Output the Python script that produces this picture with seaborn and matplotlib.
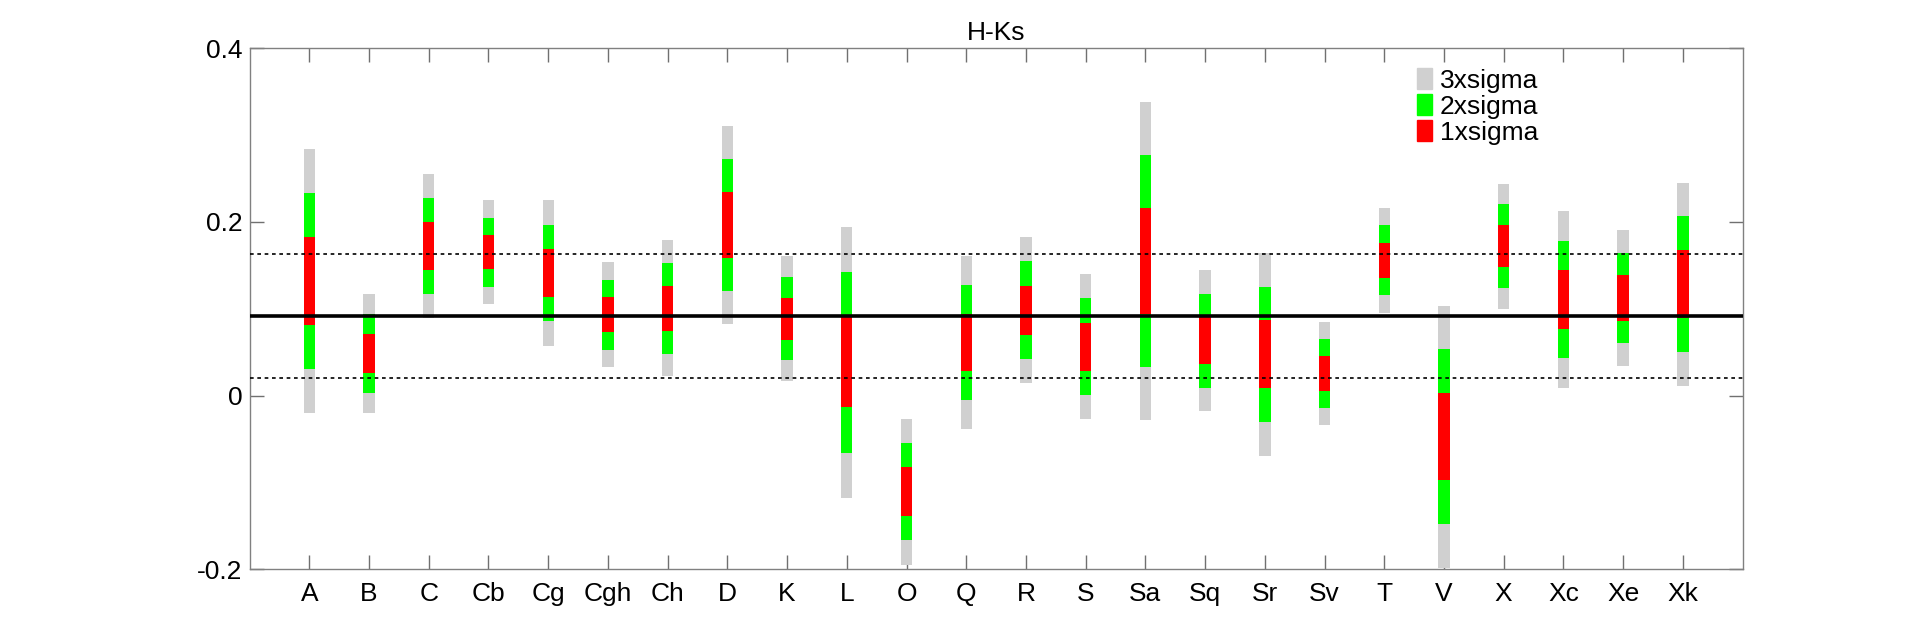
import numpy as np
import pandas as pd
import matplotlib
matplotlib.use('Agg')
import matplotlib.pyplot as plt
import matplotlib.patches as mpatches
import seaborn as sns

# classes and their H-Ks centre / sigma
classes = ['A', 'B', 'C', 'Cb', 'Cg', 'Cgh', 'Ch', 'D', 'K', 'L', 'O', 'Q',
           'R', 'S', 'Sa', 'Sq', 'Sr', 'Sv', 'T', 'V', 'X', 'Xc', 'Xe', 'Xk']
centre = [0.132, 0.0485, 0.1723, 0.1653, 0.1413, 0.0932, 0.1004, 0.1965,
          0.0885, 0.0384, -0.1107, 0.0612, 0.0984, 0.0563, 0.1554, 0.0632,
          0.0476, 0.0253, 0.156, -0.0474, 0.1723, 0.1107, 0.1123, 0.1285]
sigma = [0.0507, 0.023, 0.0277, 0.0199, 0.0279, 0.0201, 0.0261, 0.038,
         0.024, 0.052, 0.0281, 0.0333, 0.0281, 0.0279, 0.061, 0.0271,
         0.039, 0.0199, 0.0201, 0.0503, 0.024, 0.0339, 0.0261, 0.039]

mean_all = 0.092
band_lo = 0.0205
band_hi = 0.1634

ytick_vals = [-0.2, 0, 0.2, 0.4]
ytick_labels = ['-0.2', '0', '0.2', '0.4']

df = pd.DataFrame({'cls': classes, 'c': centre, 's': sigma})
df['pos'] = np.arange(1, len(df) + 1)

sns.set_style('ticks')
plt.rcParams['font.family'] = ['Liberation Sans', 'DejaVu Sans']
plt.rcParams['text.color'] = 'black'

fig = plt.figure(figsize=(19.2, 6.41), dpi=100)
ax = fig.add_axes([0.13, 0.112, 0.7776, 0.8125])

# 3, 2, 1 sigma bands, widest first
cols = {3: '#d0d0d0', 2: '#00ff00', 1: '#ff0000'}
for k in [3, 2, 1]:
    ax.bar(df['pos'], 2 * k * df['s'], bottom=df['c'] - k * df['s'],
           width=0.19, color=cols[k], linewidth=0, zorder=2)

ax.axhline(mean_all, color='black', lw=2.6, zorder=3)
ax.axhline(band_lo, color='black', lw=1.2, ls=(0, (2.2, 2.2)), zorder=3)
ax.axhline(band_hi, color='black', lw=1.2, ls=(0, (2.2, 2.2)), zorder=3)

ax.set_xlim(0, 25)
ax.set_ylim(-0.2, 0.4)
ax.set_xticks(df['pos'])
ax.set_xticklabels(df['cls'])
ax.set_yticks(ytick_vals)
ax.set_yticklabels(ytick_labels)
ax.tick_params(direction='in', length=10, width=1, color='#707070',
               labelsize=19, labelcolor='black', top=True, right=True)
ax.tick_params(axis='x', pad=9)
ax.tick_params(axis='y', pad=5)
for sp in ax.spines.values():
    sp.set_color('#808080')
    sp.set_linewidth(1)
ax.set_title('H-Ks', fontsize=19, pad=6, color='black')

handles = [mpatches.Patch(color=cols[3], label='3xsigma'),
           mpatches.Patch(color=cols[2], label='2xsigma'),
           mpatches.Patch(color=cols[1], label='1xsigma')]
ax.legend(handles=handles, loc='upper left', bbox_to_anchor=(0.782, 0.962),
          frameon=False, fontsize=19, handlelength=0.55, handleheight=0.85,
          handletextpad=0.3, labelspacing=0.05, borderpad=0, borderaxespad=0)

fig.savefig('out.png', dpi=100, facecolor='white')
